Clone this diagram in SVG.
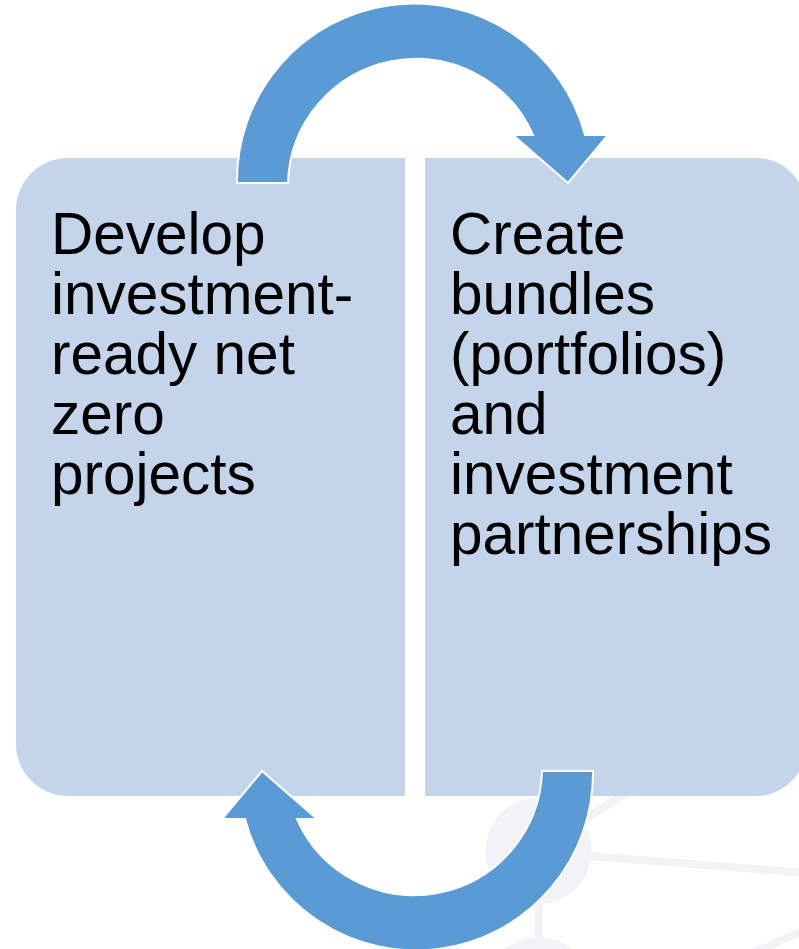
<svg xmlns="http://www.w3.org/2000/svg" width="799" height="949" viewBox="0 0 799 949">
<style>
.bg{fill:none;stroke:#f3f2f7;stroke-width:8}
.bgc{fill:#f3f2f7}
.box{fill:#c4d4ea}
.arrow{fill:#5b9bd5;stroke:#ffffff;stroke-width:2;stroke-linejoin:miter}
.t{font-family:"Liberation Sans",Arial,sans-serif;font-size:58.5px;fill:#000000}
</style>
<defs>
<path id="arc" d="M237,183 A177,177 0 0 1 585,135 L608,135 L568,183 L513,135 L533,135 A128,128 0 0 0 288,183 Z"/>
</defs>
<rect width="799" height="949" fill="#ffffff"/>
<g id="background">
<circle class="bgc" cx="538.5" cy="851" r="53"/>
<circle class="bgc" cx="538.5" cy="990" r="53"/>
<line class="bg" x1="590" y1="856" x2="805" y2="873"/>
<line class="bg" x1="575" y1="825" x2="640" y2="785"/>
<line class="bg" x1="538.5" y1="900" x2="538.5" y2="940"/>
<line class="bg" x1="755" y1="952" x2="805" y2="930"/>
</g>
<g id="node-develop">
<path class="box" d="M405,158 L68,158 A52,52 0 0 0 16,210 L16,744 A52,52 0 0 0 68,796 L405,796 Z"/>
<text class="t"><tspan x="51" y="254">Develop</tspan><tspan x="51" y="314">investment-</tspan><tspan x="51" y="374">ready net</tspan><tspan x="51" y="434">zero</tspan><tspan x="51" y="494">projects</tspan></text>
</g>
<g id="node-create">
<path class="box" d="M425,158 L756,158 A50,50 0 0 1 806,208 L806,746 A50,50 0 0 1 756,796 L425,796 Z"/>
<text class="t"><tspan x="450" y="254">Create</tspan><tspan x="450" y="314">bundles</tspan><tspan x="450" y="374">(portfolios)</tspan><tspan x="450" y="434">and</tspan><tspan x="450" y="494">investment</tspan><tspan x="450" y="554">partnerships</tspan></text>
</g>
<g id="connectors">
<use href="#arc" class="arrow"/>
<use href="#arc" class="arrow" transform="rotate(180 415 477)"/>
</g>
</svg>
